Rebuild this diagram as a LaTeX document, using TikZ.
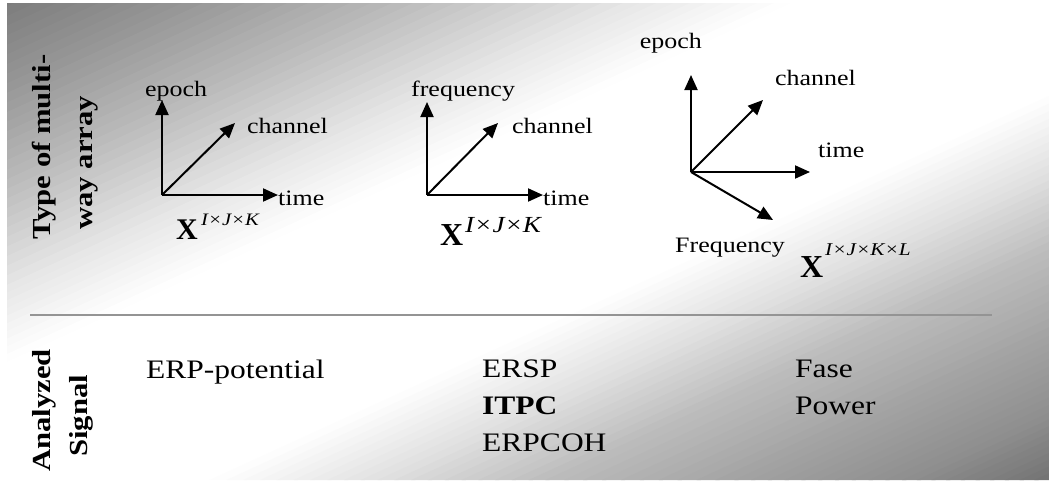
\documentclass[tikz,border=0pt]{standalone}
\usepackage{fontspec}
\setmainfont{Liberation Serif}[FakeStretch=1.18]
\newfontfamily\plainfont{Liberation Serif}
\usetikzlibrary{arrows.meta}
\definecolor{sepgray}{gray}{0.58}
\begin{document}
\begin{tikzpicture}[x=1pt,y=-1pt,
  axis/.style={line width=2pt,-{Triangle[length=15pt,width=13pt]}},
  lbl/.style={inner sep=0pt,anchor=base west,font=\fontsize{22}{26}\selectfont},
  head/.style={inner sep=0pt,anchor=base west,rotate=90,font=\bfseries\fontsize{26}{30}\selectfont},
  sig/.style={inner sep=0pt,anchor=base west,font=\fontsize{26.7}{30}\selectfont},
  bigx/.style={inner sep=0pt,anchor=base west,font=\plainfont\bfseries\fontsize{#1}{#1}\selectfont},
  supx/.style={inner sep=0pt,anchor=base west,font=\itshape\fontsize{#1}{#1}\selectfont}]
\useasboundingbox (0,0) rectangle (1049,480);
\fill[white] (0,0) rectangle (1049,480);
% diagonal gradient background (strips parallel to the TR--BL diagonal)
\begin{scope}
\clip (7,3) rectangle (1049,480);
\begin{scope}[x={(1049pt,0pt)},y={(0pt,-480pt)}]
\foreach \pa/\ga/\pb/\gb in {0/0.48/0.1/0.6, 0.1/0.6/0.2/0.74, 0.2/0.74/0.3/0.9, 0.3/0.9/0.38/1, 0.38/1/0.6/1, 0.6/1/0.68/0.88, 0.68/0.88/0.76/0.74, 0.76/0.74/0.85/0.64, 0.85/0.64/0.93/0.56, 0.93/0.56/1/0.45}{
  \foreach \k in {0,...,9}{
    \pgfmathsetmacro\sa{2*(\pa+(\pb-\pa)*\k/10)}
    \pgfmathsetmacro\sb{2*(\pa+(\pb-\pa)*(\k+1)/10)+0.004}
    \pgfmathsetmacro\gg{\ga+(\gb-\ga)*(\k+0.5)/10}
    \definecolor{stripc}{gray}{\gg}
    \fill[stripc] (\sa,0) -- (\sb,0) -- (\sb-1,1) -- (\sa-1,1) -- cycle;
  }
}
\end{scope}
\end{scope}

% headings
\node[head] (h1a) at (50,240) {Type of multi-};
\node[head] (h1b) at (92,230) {way array};
\node[head] (h2a) at (50,472) {Analyzed};
\node[head] (h2b) at (87,457) {Signal};

% separator
\coordinate (sepL) at (30,315);
\coordinate (sepR) at (992,315);
\draw[sepgray,line width=1.8pt] (sepL) -- (sepR);

% panel 1
\coordinate (o1) at (162,195);
\coordinate (u1) at (162,100);
\coordinate (r1) at (278,195);
\coordinate (d1) at (235,123);
\draw[axis] (o1) -- (u1);
\draw[axis] (o1) -- (r1);
\draw[axis] (o1) -- (d1);
\node[lbl] (ep1) at (145,96) {epoch};
\node[lbl] (ch1) at (247,133) {channel};
\node[lbl] (ti1) at (278,205) {time};
\node[bigx=30] (x1) at (176,239) {X};
\node[supx=17.5] (s1) at (201,225) {I×J×K};

% panel 2
\coordinate (o2) at (427,195);
\coordinate (u2) at (427,102);
\coordinate (r2) at (543,195);
\coordinate (d2) at (498,123);
\draw[axis] (o2) -- (u2);
\draw[axis] (o2) -- (r2);
\draw[axis] (o2) -- (d2);
\node[lbl] (fr2) at (411,96) {frequency};
\node[lbl] (ch2) at (512,133) {channel};
\node[lbl] (ti2) at (543,205) {time};
\node[bigx=32] (x2) at (440,245) {X};
\node[supx=23] (s2) at (465,232) {I×J×K};

% panel 3
\coordinate (o3) at (691,172);
\coordinate (u3) at (691,75);
\coordinate (d3) at (763,100);
\coordinate (r3) at (810,172);
\coordinate (f3) at (773,220);
\draw[axis] (o3) -- (u3);
\draw[axis] (o3) -- (d3);
\draw[axis] (o3) -- (r3);
\draw[axis] (o3) -- (f3);
\node[lbl,anchor=base east] (ep3) at (702,48) {epoch};
\node[lbl] (ch3) at (775,85) {channel};
\node[lbl] (ti3) at (818,157) {time};
\node[lbl] (fq3) at (675,252) {Frequency};
\node[bigx=32] (x3) at (800,277) {X};
\node[supx=18] (s3) at (825,255) {I×J×K×L};

% analyzed signals
\node[sig] (erp) at (146,378) {ERP-potential};
\node[sig] (ersp) at (482,377) {ERSP};
\node[sig,font=\bfseries\fontsize{26.7}{30}\selectfont] (itpc) at (482,414) {ITPC};
\node[sig] (erpcoh) at (482,451) {ERPCOH};
\node[sig] (fase) at (795,377) {Fase};
\node[sig] (power) at (795,414) {Power};
\end{tikzpicture}
\end{document}
